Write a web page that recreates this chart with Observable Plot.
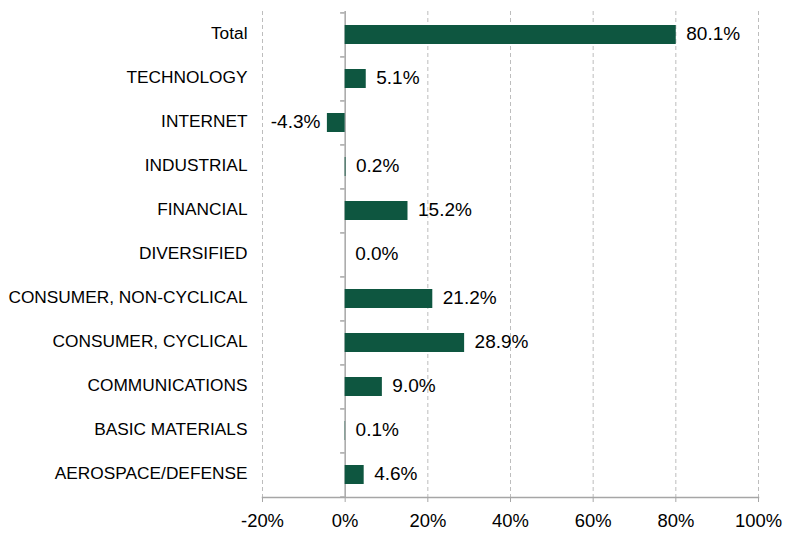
<!DOCTYPE html>
<html>
<head>
<meta charset="utf-8">
<script src="https://cdn.jsdelivr.net/npm/d3@7"></script>
<script src="https://cdn.jsdelivr.net/npm/@observablehq/plot@0.6"></script>
<style>
  html, body { margin: 0; padding: 0; background: #fff; }
  #chart svg { display: block; }
</style>
</head>
<body>
<div id="chart"></div>
<script>
const categories = [
  "Total", "TECHNOLOGY", "INTERNET", "INDUSTRIAL", "FINANCIAL", "DIVERSIFIED",
  "CONSUMER, NON-CYCLICAL", "CONSUMER, CYCLICAL", "COMMUNICATIONS",
  "BASIC MATERIALS", "AEROSPACE/DEFENSE"
];
const values = [80.1, 5.1, -4.3, 0.2, 15.2, 0.0, 21.2, 28.9, 9.0, 0.1, 4.6];
const xTicks = [-20, 0, 20, 40, 60, 80, 100];

const data = categories.map((c, i) => ({category: c, value: values[i]}));

const W = 787, H = 535;
const mL = 262, mR = 29, mT = 11, mB = 38;
const step = (H - mT - mB) / categories.length;
const pad = 0.57;
const green = "#0e5640";
const fmt = v => v.toFixed(1) + "%";

const chart = Plot.plot({
  width: W, height: H,
  marginLeft: mL, marginRight: mR, marginTop: mT, marginBottom: mB,
  style: {fontFamily: "'Liberation Sans', Arial, sans-serif", fontSize: "17px", color: "#000", background: "#fff"},
  x: {domain: [-20, 100], ticks: xTicks, tickFormat: d => d + "%"},
  y: {domain: categories, paddingInner: pad, paddingOuter: pad / 2},
  marks: [
    Plot.ruleX(xTicks.filter(t => t !== 0), {stroke: "#bdbdbd", strokeDasharray: "4,3", strokeWidth: 1}),
    Plot.ruleX([0], {stroke: "#a6a6a6", strokeWidth: 1.5}),
    Plot.ruleY(categories, {y: d => d, x1: -1.1, x2: 0, dy: -step / 2, stroke: "#a6a6a6", strokeWidth: 1.5}),
    Plot.ruleY(categories.slice(-1), {y: d => d, x1: -1.1, x2: 0, dy: step / 2, stroke: "#a6a6a6", strokeWidth: 1.5}),
    Plot.frame({anchor: "bottom", stroke: "#a6a6a6", strokeWidth: 1.5}),
    Plot.axisX({ticks: xTicks, tickFormat: d => d + "%", tickSize: 5, tickPadding: 11, stroke: "#a6a6a6", fontSize: 18.4, label: null}),
    Plot.axisY({tickSize: 0, tickPadding: 15, label: null, fontSize: 17.3, dy: -1.5}),
    Plot.barX(data, {x1: 0, x2: "value", y: "category", fill: green}),
    Plot.text(data.filter(d => d.value >= 0), {x: "value", y: "category", text: d => fmt(d.value), textAnchor: "start", dx: 10, dy: -1.5, fontSize: 19, fill: "#000"}),
    Plot.text(data.filter(d => d.value < 0), {x: "value", y: "category", text: d => fmt(d.value), textAnchor: "end", dx: -7, dy: -1.5, fontSize: 19, fill: "#000"})
  ]
});
document.getElementById("chart").appendChild(chart);
</script>
</body>
</html>
